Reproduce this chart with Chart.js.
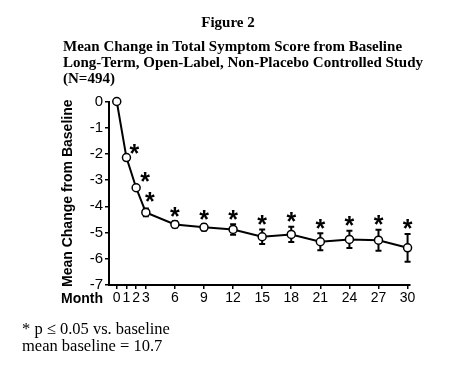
<!DOCTYPE html>
<html>
<head>
<meta charset="utf-8">
<script src="https://cdn.jsdelivr.net/npm/chart.js@4.4.1/dist/chart.umd.min.js"></script>
<style>
  html, body { margin: 0; padding: 0; background: #fff; }
  #wrap { position: relative; width: 452px; height: 371px; overflow: hidden; }
  #c { position: absolute; left: 0; top: 0; }
  .t { position: absolute; font-family: "Liberation Serif", "Times New Roman", serif; color: #000; white-space: nowrap; }
  .b { font-weight: bold; }
  .s { font-family: "Liberation Sans", Arial, Helvetica, sans-serif; font-weight: bold; position: absolute; white-space: nowrap; }
</style>
</head>
<body>
<div id="wrap">
  <canvas id="c" width="452" height="371"></canvas>
  <div class="t b" style="left:0;width:456px;text-align:center;top:13px;font-size:15px;line-height:18px;">Figure 2</div>
  <div class="t b" style="left:63px;top:38px;font-size:15px;line-height:16px;">Mean Change in Total Symptom Score from Baseline<br>Long-Term, Open-Label, Non-Placebo Controlled Study<br>(N=494)</div>
  <div class="s" style="left:61px;top:289px;font-size:14px;line-height:18px;">Month</div>
  <div class="t" style="left:22px;top:320px;font-size:16.5px;line-height:17px;">* p ≤ 0.05 vs. baseline<br>mean baseline = 10.7</div>
</div>
<script>
const months = [0, 1, 2, 3, 6, 9, 12, 15, 18, 21, 24, 27, 30];
const meanChange = [0, -2.14, -3.29, -4.23, -4.69, -4.80, -4.88, -5.16, -5.07, -5.35, -5.26, -5.29, -5.58];
const stdError = [0, 0.05, 0.05, 0.15, 0.12, 0.12, 0.20, 0.28, 0.29, 0.32, 0.33, 0.40, 0.53];
const significant = [false, true, true, true, true, true, true, true, true, true, true, true, true];
const monthTicks = [0, 1, 2, 3, 6, 9, 12, 15, 18, 21, 24, 27, 30];
const yTicks = [0, -1, -2, -3, -4, -5, -6, -7];
const yAxisTitle = 'Mean Change from Baseline';

// star placement style (pixel offsets for crowded early points)
const starOffsets = { 1: [8, -6], 2: [9, -8], 3: [4, -13] };

const errorBarPlugin = {
  id: 'errorBars',
  beforeDatasetsDraw(chart) {
    const ctx = chart.ctx, xs = chart.scales.x, ys = chart.scales.y;
    ctx.save();
    ctx.strokeStyle = '#000';
    ctx.lineWidth = 2;
    months.forEach((m, i) => {
      const e = stdError[i];
      if (!e) return;
      const x = xs.getPixelForValue(m);
      const yt = ys.getPixelForValue(meanChange[i] + e);
      const yb = ys.getPixelForValue(meanChange[i] - e);
      ctx.beginPath();
      ctx.moveTo(x, yt); ctx.lineTo(x, yb);
      ctx.moveTo(x - 3, yt); ctx.lineTo(x + 3, yt);
      ctx.moveTo(x - 3, yb); ctx.lineTo(x + 3, yb);
      ctx.stroke();
    });
    ctx.restore();
  },
  afterDatasetsDraw(chart) {
    const ctx = chart.ctx, xs = chart.scales.x, ys = chart.scales.y;
    ctx.save();
    ctx.fillStyle = '#000';
    const size = 25;
    ctx.font = 'bold ' + size + 'px "Liberation Sans", Arial, sans-serif';
    ctx.textAlign = 'center';
    ctx.textBaseline = 'alphabetic';
    months.forEach((m, i) => {
      if (!significant[i]) return;
      let cx, cy;
      const px = xs.getPixelForValue(m);
      const py = ys.getPixelForValue(meanChange[i]);
      if (starOffsets[i]) {
        cx = px + starOffsets[i][0];
        cy = py + starOffsets[i][1];
      } else {
        cx = px;
        cy = ys.getPixelForValue(meanChange[i] + stdError[i]) - 7;
      }
      ctx.fillText('*', cx, cy + 0.42 * size);
    });
    ctx.restore();
  }
};

new Chart(document.getElementById('c'), {
  type: 'line',
  data: {
    datasets: [{
      data: months.map((m, i) => ({ x: m, y: meanChange[i] })),
      borderColor: '#000',
      borderWidth: 2,
      tension: 0,
      pointRadius: 4,
      pointBackgroundColor: '#fff',
      pointBorderColor: '#000',
      pointBorderWidth: 1.5,
      clip: false
    }]
  },
  options: {
    responsive: false,
    animation: false,
    devicePixelRatio: 1,
    layout: { padding: { left: 60, top: 101.5, right: 42, bottom: 61 } },
    plugins: { legend: { display: false }, tooltip: { enabled: false }, title: { display: false } },
    scales: {
      x: {
        type: 'linear',
        min: -0.8,
        max: 30.25,
        afterFit(s) { s.height = 25; },
        afterBuildTicks(s) { s.ticks = monthTicks.map(v => ({ value: v })); },
        border: { color: '#000', width: 2 },
        grid: { drawOnChartArea: false, color: '#000', tickLength: 4, lineWidth: 1.5 },
        ticks: {
          color: '#000',
          padding: 1,
          maxRotation: 0,
          autoSkip: false,
          font: { family: '"Liberation Sans", Arial, Helvetica, sans-serif', size: 14 },
          callback: v => String(v)
        }
      },
      y: {
        type: 'linear',
        min: -7,
        max: 0,
        afterFit(s) { s.width = 49; },
        afterBuildTicks(s) { s.ticks = yTicks.map(v => ({ value: v })); },
        border: { color: '#000', width: 2 },
        grid: { drawOnChartArea: false, color: '#000', tickLength: 4, lineWidth: 1.5 },
        title: {
          display: true,
          text: yAxisTitle,
          color: '#000',
          padding: 0,
          font: { family: '"Liberation Sans", Arial, Helvetica, sans-serif', size: 14, weight: 'bold' }
        },
        ticks: {
          color: '#000',
          padding: 2,
          font: { family: '"Liberation Sans", Arial, Helvetica, sans-serif', size: 15 },
          callback: v => String(v)
        }
      }
    }
  },
  plugins: [errorBarPlugin]
});
</script>
</body>
</html>
